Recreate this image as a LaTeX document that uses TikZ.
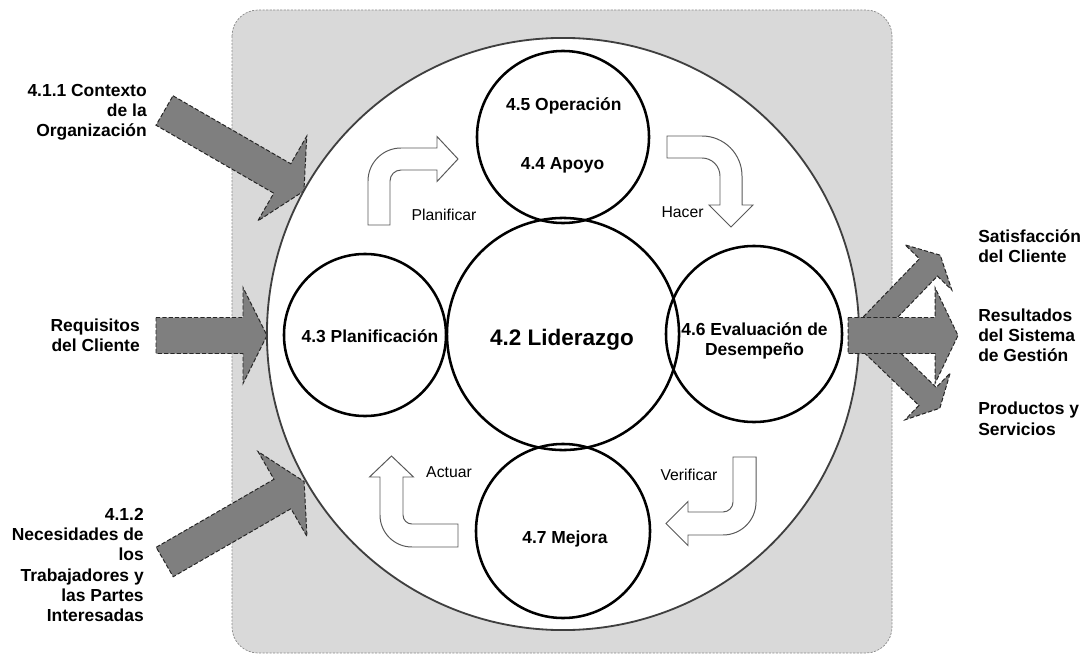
\documentclass[tikz,border=0pt]{standalone}
\usepackage{fontspec}
\setmainfont{Liberation Sans}
\definecolor{marco}{HTML}{D9D9D9}
\definecolor{bordemarco}{HTML}{8C8C8C}
\definecolor{relleno}{HTML}{7F7F7F}
\definecolor{trazo}{HTML}{262626}
\definecolor{giro}{HTML}{595959}
\definecolor{aro}{HTML}{3F3F3F}
\tikzset{
  circulo/.style={circle,draw=black,line width=1.8pt,inner sep=0pt},
  gruesa/.style={fill=relleno,draw=trazo,line width=0.7pt,dash pattern=on 3pt off 1.5pt},
  hueca/.style={fill=white,draw=giro,line width=0.7pt},
  rotulo/.style={font=\fontsize{12.4}{14.3}\selectfont\bfseries,inner sep=0pt},
  verbo/.style={font=\fontsize{11.2}{13}\selectfont,inner sep=0pt,anchor=base}
}
\newcommand{\flechabloque}[6]{%
  \draw[gruesa,shift={#1},rotate=#2] (0,-#4) -- (#3,-#4) -- (#3,-#6) -- ({#3+#5},0) -- (#3,#6) -- (#3,#4) -- (0,#4) -- cycle;}

\begin{document}
\begin{tikzpicture}[x=0.025cm,y=-0.025cm]
\useasboundingbox (0,0) rectangle (1086,657);
\draw[fill=marco,draw=bordemarco,line width=0.5pt,dash pattern=on 1.5pt off 1pt,rounded corners=0.65cm] (232,10) rectangle (892,653);

\flechabloque{(164.5,110.5)}{-30}{136}{17}{25}{49}
\flechabloque{(156,335.5)}{0}{87}{18}{24}{48}
\flechabloque{(164.7,562)}{30}{136}{17}{25}{49}

\node[circle,fill=white,draw=aro,line width=1.3pt,minimum size=14.8cm,inner sep=0pt] (sistema) at (563,334) {};
\node[circulo,minimum size=5.8cm] (lid) at (563,334) {};
\node[circulo,minimum size=4.3cm] (sop) at (563,137) {};
\node[circulo,minimum size=4.35cm] (mej) at (563,531) {};
\node[circulo,minimum size=4.4cm] (eval) at (754,334) {};
\node[circulo,minimum size=4.05cm] (plan) at (365,335) {};

\flechabloque{(868,330)}{46}{87}{12.5}{17}{32.5}
\flechabloque{(865,336)}{-44}{87}{12.5}{17}{32.5}
\flechabloque{(848,335.5)}{0}{87}{18}{23}{48}

\draw[hueca] (368,225) -- (368,181) .. controls (368,162.8) and (382.8,148) .. (401,148) -- (437,148) -- (437,136.5) -- (458,159) -- (437,181.5) -- (437,170) -- (401,170) .. controls (394.9,170) and (390,174.9) .. (390,181) -- (390,225) -- cycle;
\draw[hueca] (667,136) -- (702,136) .. controls (724.1,136) and (742,153.9) .. (742,176) -- (742,205) -- (753,205) -- (731,227) -- (709,205) -- (720,205) -- (720,176) .. controls (720,166.1) and (711.9,158) .. (702,158) -- (667,158) -- cycle;
\draw[hueca] (458,547) -- (412,547) .. controls (394.3,547) and (380,532.7) .. (380,515) -- (380,477) -- (369.5,477) -- (391.5,456) -- (413.5,477) -- (403,477) -- (403,515) .. controls (403,520) and (407,524) .. (412,524) -- (458,524) -- cycle;
\draw[hueca] (733,457) -- (756,457) -- (756,502) .. controls (756,520.2) and (741.2,535) .. (723,535) -- (688,535) -- (688,545.5) -- (666,523.5) -- (688,501.5) -- (688,512) -- (723,512) .. controls (728.5,512) and (733,507.5) .. (733,502) -- cycle;

\node[rotulo,anchor=base] (toper) at (563.8,111) {4.5 Operación};
\node[rotulo,anchor=base] (tapoyo) at (562.5,169.3) {4.4 Apoyo};
\node[rotulo,anchor=base] (tplanif) at (370,342) {4.3 Planificación};
\node[rotulo,font=\fontsize{16}{19}\selectfont\bfseries,anchor=base] (tlid) at (562,345) {4.2 Liderazgo};
\node[rotulo,anchor=base] (tmej) at (565,543.3) {4.7 Mejora};
\node[rotulo,align=center] (teval) at (754.5,340.5) {4.6 Evaluación de\\Desempeño};

\node[rotulo,align=right,anchor=east] (ctx) at (147,112.6) {4.1.1 Contexto\\de la\\Organización};
\node[rotulo,align=right,anchor=east] (req) at (140,335.5) {Requisitos\\del Cliente};
\node[rotulo,align=right,anchor=east] (nec) at (144,565) {4.1.2\\Necesidades de\\los\\Trabajadores y\\las Partes\\Interesadas};
\node[rotulo,align=left,anchor=west] (sat) at (978,246) {Satisfacción\\del Cliente};
\node[rotulo,align=left,anchor=west] (res) at (978,335.5) {Resultados\\del Sistema\\de Gestión};
\node[rotulo,align=left,anchor=west] (prod) at (978,418.8) {Productos y\\Servicios};

\node[verbo] (vplan) at (444,220) {Planificar};
\node[verbo] (vhacer) at (682.5,217.3) {Hacer};
\node[verbo] (vactuar) at (449,477.3) {Actuar};
\node[verbo] (vverif) at (689,480) {Verificar};
\end{tikzpicture}
\end{document}
